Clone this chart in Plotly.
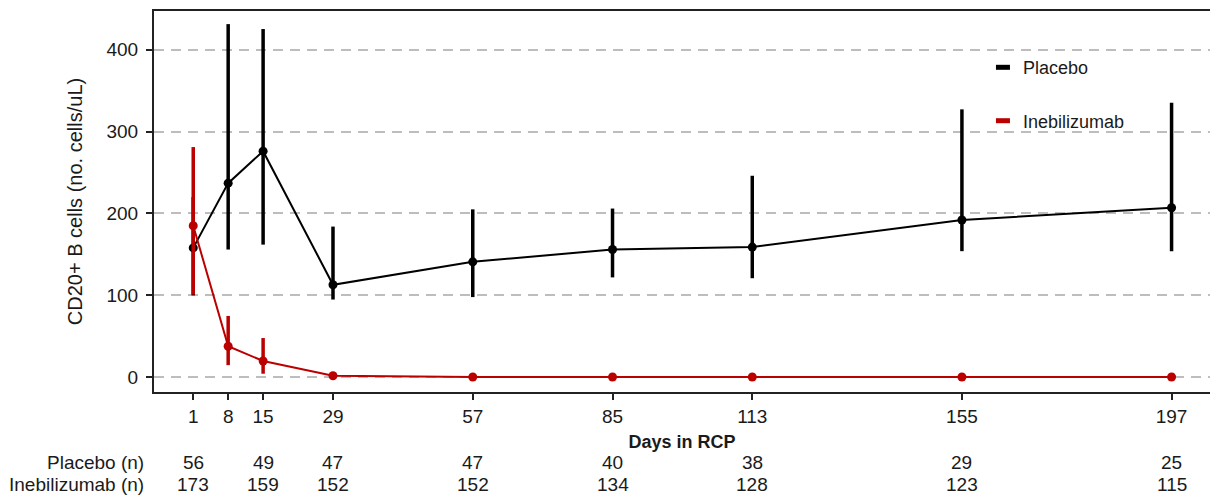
import plotly.graph_objects as go

days = [1, 8, 15, 29, 57, 85, 113, 155, 197]

placebo_mean = [158, 237, 276, 113, 141, 156, 159, 192, 207]
placebo_lo = [100, 156, 162, 95, 98, 122, 121, 154, 154]
placebo_hi = [220, 431, 425, 184, 205, 206, 246, 327, 335]

ineb_mean = [185, 38, 20, 2, 0.5, 0.5, 0.5, 0.5, 0.5]
ineb_lo = [101, 15, 4.5, 1, 0.3, 0.3, 0.3, 0.3, 0.3]
ineb_hi = [281, 75, 48, 3, 0.7, 0.7, 0.7, 0.7, 0.7]

n_days = [1, 15, 29, 57, 85, 113, 155, 197]
placebo_n = [56, 49, 47, 47, 40, 38, 29, 25]
ineb_n = [173, 159, 152, 152, 134, 128, 123, 115]

yticks = [0, 100, 200, 300, 400]

BLACK = "#000000"
RED = "#bb0000"
FONT = "Liberation Sans"
TXT = "#1a1a1a"
FS = 19


def errs(mean, lo, hi):
    return [h - m for m, h in zip(mean, hi)], [m - l for m, l in zip(mean, lo)]


fig = go.Figure()

for name, mean, lo, hi, col in [
    ("Placebo", placebo_mean, placebo_lo, placebo_hi, BLACK),
    ("Inebilizumab", ineb_mean, ineb_lo, ineb_hi, RED),
]:
    up, dn = errs(mean, lo, hi)
    fig.add_trace(go.Scatter(
        x=days, y=mean, mode="lines+markers", name=name, showlegend=False,
        line=dict(color=col, width=2),
        marker=dict(color=col, size=9),
        error_y=dict(type="data", symmetric=False, array=up, arrayminus=dn,
                     color=col, thickness=3.5, width=0),
    ))

# legend entries
for name, col in [("Placebo", BLACK), ("Inebilizumab", RED)]:
    fig.add_trace(go.Scatter(
        x=[None], y=[None], mode="markers", name=name, legendgroup=name,
        marker=dict(symbol="line-ew", size=10, color=col,
                    line=dict(color=col, width=5)),
    ))

annotations = []
ROW1, ROW2 = -0.184, -0.244
for d, pn, inn in zip(n_days, placebo_n, ineb_n):
    annotations.append(dict(x=d, y=ROW1, xref="x", yref="paper", text=str(pn),
                            showarrow=False, xanchor="center", yanchor="middle",
                            font=dict(family=FONT, size=FS, color=TXT)))
    annotations.append(dict(x=d, y=ROW2, xref="x", yref="paper", text=str(inn),
                            showarrow=False, xanchor="center", yanchor="middle",
                            font=dict(family=FONT, size=FS, color=TXT)))
annotations.append(dict(x=-0.008, y=ROW1, xref="paper", yref="paper", text="Placebo (n)",
                        showarrow=False, xanchor="right", yanchor="middle",
                        font=dict(family=FONT, size=FS, color=TXT)))
annotations.append(dict(x=-0.008, y=ROW2, xref="paper", yref="paper", text="Inebilizumab (n)",
                        showarrow=False, xanchor="right", yanchor="middle",
                        font=dict(family=FONT, size=FS, color=TXT)))

fig.update_layout(
    width=1210, height=499,
    margin=dict(l=154, r=0, t=11, b=107),
    paper_bgcolor="white", plot_bgcolor="white",
    font=dict(family=FONT, size=FS, color=TXT),
    showlegend=True,
    legend=dict(x=0.785, y=0.9, xanchor="left", yanchor="top",
                bgcolor="rgba(0,0,0,0)", tracegroupgap=27,
                font=dict(family=FONT, size=18, color=TXT)),
    annotations=annotations,
)

fig.update_xaxes(
    range=[-6.86, 204.7], tickmode="array", tickvals=days,
    ticktext=[str(d) for d in days],
    ticks="outside", ticklen=6, tickwidth=2, tickcolor="#222",
    showgrid=False, zeroline=False, automargin=False,
    showline=True, linecolor="#222", linewidth=2, mirror=True,
    title=dict(text="<b>Days in RCP</b>", standoff=10,
               font=dict(family=FONT, size=18, color=TXT)),
    tickfont=dict(family=FONT, size=FS, color=TXT),
)
fig.update_yaxes(
    range=[-17.8, 447], tickmode="array", tickvals=yticks,
    ticks="outside", ticklen=6, tickwidth=2, tickcolor="#222",
    ticklabelstandoff=4,
    showgrid=True, gridcolor="#bdbdbd", griddash="10px,7px", gridwidth=1.5,
    zeroline=False, automargin=False,
    showline=True, linecolor="#222", linewidth=2, mirror=False,
    title=dict(text="CD20+ B cells (no. cells/uL)", standoff=18,
               font=dict(family=FONT, size=20, color=TXT)),
    tickfont=dict(family=FONT, size=FS, color=TXT),
)

fig.write_html("out.html", config={"displayModeBar": False},
               post_script="document.body.style.margin='0px';")
